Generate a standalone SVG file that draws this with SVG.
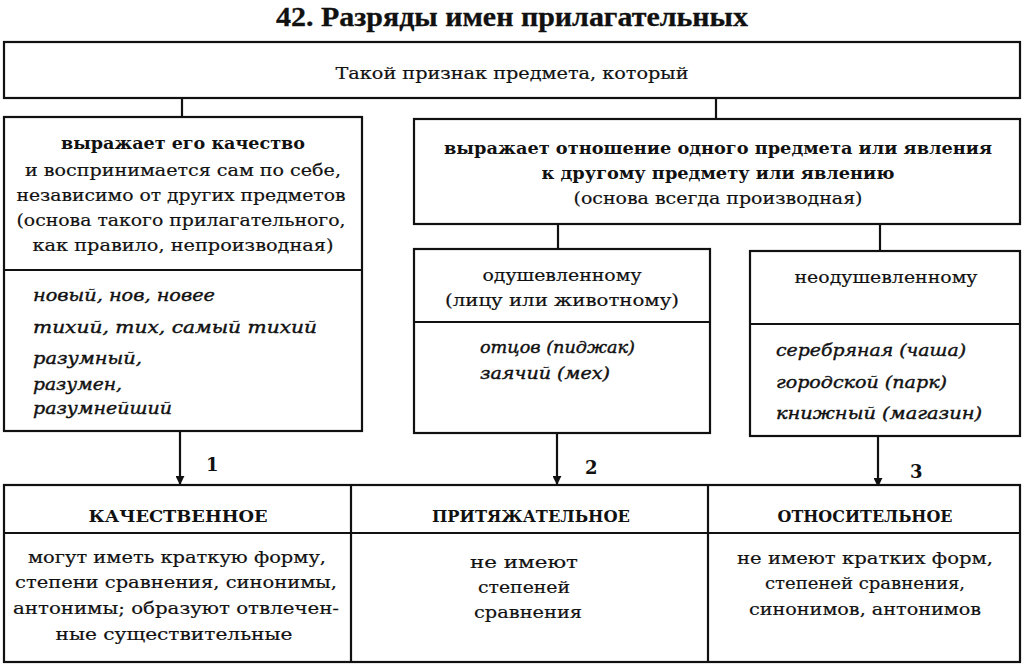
<svg xmlns="http://www.w3.org/2000/svg" width="1024" height="671" viewBox="0 0 1024 671">
<style>
.box{fill:#fff;stroke:#111;stroke-width:2.2}
.ln{stroke:#111;stroke-width:2.2;fill:none}
text{font-family:"DejaVu Serif","Liberation Serif",serif;font-size:17px;fill:#111;stroke:#111;stroke-width:0.2}
.c{text-anchor:middle}
.b{font-weight:bold;stroke-width:0}
.i{font-style:italic;stroke-width:0.4}
.t{font-family:"Liberation Serif",serif;font-weight:bold;font-size:28px;stroke-width:0.3}
.n{font-weight:bold;font-size:18px;stroke-width:0}
</style>
<defs>
<marker id="ah" viewBox="0 0 10 10" refX="9" refY="5" markerWidth="9" markerHeight="9" markerUnits="userSpaceOnUse" orient="auto">
<path d="M0,0 L10,5 L0,10 z" fill="#111"/>
</marker>
</defs>
<rect width="1024" height="671" fill="#fff"/>
<text class="t c" x="512" y="26" textLength="472" lengthAdjust="spacingAndGlyphs">42. Разряды имен прилагательных</text>

<g id="connectors">
<line class="ln" x1="182" y1="98" x2="182" y2="117"/>
<line class="ln" x1="716" y1="98" x2="716" y2="119"/>
<line class="ln" x1="558" y1="224" x2="558" y2="249"/>
<line class="ln" x1="880" y1="224" x2="880" y2="251"/>
<line class="ln" x1="180" y1="431" x2="180" y2="484" marker-end="url(#ah)"/>
<line class="ln" x1="557" y1="433" x2="557" y2="484" marker-end="url(#ah)"/>
<line class="ln" x1="878" y1="436" x2="878" y2="486" marker-end="url(#ah)"/>
<text class="n" x="206" y="471">1</text>
<text class="n" x="585" y="474">2</text>
<text class="n" x="910" y="478">3</text>
</g>

<g id="top">
<rect class="box" x="4" y="42" width="1016" height="56"/>
<text class="c" x="512" y="79" textLength="353" lengthAdjust="spacingAndGlyphs">Такой признак предмета, который</text>
</g>

<g id="quality">
<rect class="box" x="4" y="117" width="358" height="314"/>
<line class="ln" x1="4" y1="270" x2="362" y2="270"/>
<text class="c b" x="183" y="149" textLength="244" lengthAdjust="spacingAndGlyphs">выражает его качество</text>
<text class="c" x="183" y="176" textLength="316" lengthAdjust="spacingAndGlyphs">и воспринимается сам по себе,</text>
<text class="c" x="181" y="201" textLength="329" lengthAdjust="spacingAndGlyphs">независимо от других предметов</text>
<text class="c" x="181" y="226" textLength="329" lengthAdjust="spacingAndGlyphs">(основа такого прилагательного,</text>
<text class="c" x="183" y="251" textLength="301" lengthAdjust="spacingAndGlyphs">как правило, непроизводная)</text>
<text class="i" x="33" y="301" textLength="182" lengthAdjust="spacingAndGlyphs">новый, нов, новее</text>
<text class="i" x="33" y="333" textLength="284" lengthAdjust="spacingAndGlyphs">тихий, тих, самый тихий</text>
<text class="i" x="33" y="364" textLength="109" lengthAdjust="spacingAndGlyphs">разумный,</text>
<text class="i" x="33" y="390" textLength="89" lengthAdjust="spacingAndGlyphs">разумен,</text>
<text class="i" x="33" y="414" textLength="139" lengthAdjust="spacingAndGlyphs">разумнейший</text>
</g>

<g id="relation">
<rect class="box" x="414" y="119" width="606" height="105"/>
<text class="c b" x="718" y="154" textLength="548" lengthAdjust="spacingAndGlyphs">выражает отношение одного предмета или явления</text>
<text class="c b" x="718" y="179" textLength="353" lengthAdjust="spacingAndGlyphs">к другому предмету или явлению</text>
<text class="c" x="718" y="204" textLength="289" lengthAdjust="spacingAndGlyphs">(основа всегда производная)</text>
</g>

<g id="animate">
<rect class="box" x="414" y="249" width="296" height="184"/>
<line class="ln" x1="414" y1="322" x2="710" y2="322"/>
<text class="c" x="562" y="281" textLength="159" lengthAdjust="spacingAndGlyphs">одушевленному</text>
<text class="c" x="562" y="306" textLength="234" lengthAdjust="spacingAndGlyphs">(лицу или животному)</text>
<text class="i" x="480" y="353" textLength="155" lengthAdjust="spacingAndGlyphs">отцов (пиджак)</text>
<text class="i" x="480" y="379" textLength="130" lengthAdjust="spacingAndGlyphs">заячий (мех)</text>
</g>

<g id="inanimate">
<rect class="box" x="750" y="251" width="270" height="185"/>
<line class="ln" x1="750" y1="324" x2="1020" y2="324"/>
<text class="c" x="886" y="283" textLength="183" lengthAdjust="spacingAndGlyphs">неодушевленному</text>
<text class="i" x="776" y="356" textLength="190" lengthAdjust="spacingAndGlyphs">серебряная (чаша)</text>
<text class="i" x="776" y="388" textLength="171" lengthAdjust="spacingAndGlyphs">городской (парк)</text>
<text class="i" x="776" y="419" textLength="206" lengthAdjust="spacingAndGlyphs">книжный (магазин)</text>
</g>

<g id="table">
<rect class="box" x="4" y="485" width="1016" height="177"/>
<line class="ln" x1="4" y1="533" x2="1020" y2="533"/>
<line class="ln" x1="351" y1="485" x2="351" y2="662"/>
<line class="ln" x1="708" y1="485" x2="708" y2="662"/>
</g>

<g id="qualitative">
<text class="c b" x="178" y="522" textLength="179" lengthAdjust="spacingAndGlyphs">КАЧЕСТВЕННОЕ</text>
<text class="c" x="177" y="563" textLength="298" lengthAdjust="spacingAndGlyphs">могут иметь краткую форму,</text>
<text class="c" x="176" y="588" textLength="322" lengthAdjust="spacingAndGlyphs">степени сравнения, синонимы,</text>
<text class="c" x="176" y="614" textLength="326" lengthAdjust="spacingAndGlyphs">антонимы; образуют отвлечен-</text>
<text class="c" x="174" y="640" textLength="237" lengthAdjust="spacingAndGlyphs">ные существительные</text>
</g>

<g id="possessive">
<text class="c b" x="531" y="522" textLength="198" lengthAdjust="spacingAndGlyphs">ПРИТЯЖАТЕЛЬНОЕ</text>
<text class="c" x="524" y="568" textLength="108" lengthAdjust="spacingAndGlyphs">не имеют</text>
<text class="c" x="524" y="593" textLength="92" lengthAdjust="spacingAndGlyphs">степеней</text>
<text class="c" x="528" y="618" textLength="108" lengthAdjust="spacingAndGlyphs">сравнения</text>
</g>

<g id="relative">
<text class="c b" x="865" y="522" textLength="175" lengthAdjust="spacingAndGlyphs">ОТНОСИТЕЛЬНОЕ</text>
<text class="c" x="865" y="564" textLength="256" lengthAdjust="spacingAndGlyphs">не имеют кратких форм,</text>
<text class="c" x="865" y="589" textLength="200" lengthAdjust="spacingAndGlyphs">степеней сравнения,</text>
<text class="c" x="865" y="615" textLength="232" lengthAdjust="spacingAndGlyphs">синонимов, антонимов</text>
</g>
</svg>
